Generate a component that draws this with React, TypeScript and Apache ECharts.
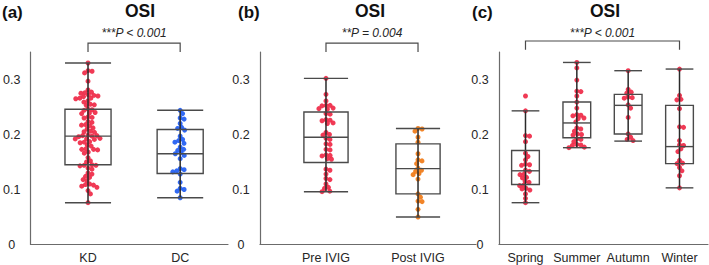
import React, { useEffect, useRef } from "react";
import * as echarts from "echarts";

// ---------- data ----------
const panelTags = ["(a)", "(b)", "(c)"];
const panelTitle = "OSI";
const pLabels = ["***P < 0.001", "**P = 0.004", "***P < 0.001"];

const catsA = ["KD", "DC"];
const catsB = ["Pre IVIG", "Post IVIG"];
const catsC = ["Spring", "Summer", "Autumn", "Winter"];

const yTicks = [0, 0.1, 0.2, 0.3];

const kd = [
  0.330, 0.316, 0.315, 0.312, 0.297, 0.281, 0.277, 0.276, 0.275, 0.272,
  0.271, 0.270, 0.269, 0.266, 0.266, 0.265, 0.261, 0.259, 0.255, 0.254,
  0.253, 0.246, 0.245, 0.244, 0.240, 0.239, 0.238, 0.232, 0.231, 0.230,
  0.224, 0.222, 0.218, 0.217, 0.216, 0.212, 0.210, 0.206, 0.205, 0.204,
  0.199, 0.198, 0.198, 0.197, 0.196, 0.193, 0.192, 0.192, 0.191, 0.187,
  0.186, 0.185, 0.181, 0.179, 0.174, 0.173, 0.173, 0.172, 0.168, 0.166,
  0.158, 0.152, 0.150, 0.145, 0.144, 0.144, 0.143, 0.139, 0.137, 0.130,
  0.128, 0.124, 0.122, 0.118, 0.116, 0.110, 0.109, 0.108, 0.106, 0.104,
  0.098, 0.092, 0.076,
];
const dc = [
  0.244, 0.238, 0.230, 0.228, 0.220, 0.213, 0.211, 0.208, 0.197, 0.191,
  0.189, 0.186, 0.184, 0.177, 0.173, 0.171, 0.167, 0.165, 0.162, 0.156,
  0.138, 0.136, 0.134, 0.132, 0.128, 0.113, 0.102, 0.100, 0.097, 0.085,
];
const preIvig = [
  0.302, 0.273, 0.261, 0.253, 0.253, 0.252, 0.248, 0.247, 0.246, 0.238,
  0.237, 0.227, 0.226, 0.225, 0.221, 0.220, 0.204, 0.200, 0.199, 0.193,
  0.191, 0.183, 0.182, 0.173, 0.172, 0.163, 0.162, 0.161, 0.156, 0.155,
  0.137, 0.135, 0.128, 0.120, 0.118, 0.110, 0.104, 0.102, 0.097, 0.096,
];
const postIvig = [
  0.211, 0.210, 0.206, 0.195, 0.186, 0.165, 0.154, 0.152, 0.147, 0.139,
  0.135, 0.133, 0.129, 0.127, 0.119, 0.092, 0.086, 0.079, 0.078, 0.064,
  0.050,
];
const spring = [
  0.270, 0.243, 0.198, 0.197, 0.187, 0.166, 0.160, 0.154, 0.146, 0.145,
  0.144, 0.135, 0.133, 0.128, 0.127, 0.122, 0.121, 0.115, 0.113, 0.108,
  0.107, 0.102, 0.101, 0.099, 0.092, 0.084, 0.076,
];
const summer = [
  0.331, 0.321, 0.299, 0.279, 0.278, 0.270, 0.259, 0.248, 0.236, 0.235,
  0.234, 0.230, 0.229, 0.223, 0.212, 0.210, 0.206, 0.201, 0.200, 0.199,
  0.192, 0.191, 0.187, 0.182, 0.181, 0.180, 0.177, 0.176,
];
const autumn = [
  0.316, 0.282, 0.277, 0.275, 0.268, 0.267, 0.266, 0.254, 0.248, 0.231,
  0.201, 0.195, 0.191, 0.189,
];
const winter = [
  0.319, 0.271, 0.264, 0.263, 0.247, 0.214, 0.213, 0.189, 0.181, 0.180,
  0.174, 0.169, 0.153, 0.148, 0.147, 0.140, 0.134, 0.125, 0.103,
];

// box stats: [min, Q1, median, Q3, max]
const boxA = [
  [0.076, 0.145, 0.197, 0.246, 0.330],
  [0.085, 0.129, 0.165, 0.209, 0.244],
];
const boxB = [
  [0.096, 0.149, 0.195, 0.241, 0.302],
  [0.050, 0.092, 0.138, 0.183, 0.211],
];
const boxC = [
  [0.076, 0.109, 0.134, 0.171, 0.243],
  [0.176, 0.194, 0.221, 0.259, 0.331],
  [0.188, 0.201, 0.253, 0.273, 0.316],
  [0.103, 0.147, 0.178, 0.253, 0.319],
];

// significance brackets: from-category, to-category, top value, foot value
const bracketFrom = [0, 0, 0];
const bracketTo = [1, 1, 3];
const bracketTop = [0.366, 0.366, 0.37];
const bracketFoot = [0.35, 0.35, 0.354];
const pLabelY = 0.3845;

const RED = "#ef2947";
const BLUE = "#1f5cf2";
const ORANGE = "#f07a16";
const FONT = "Liberation Sans, Arial, sans-serif";

function swarm(ys: number[], d: number): number[] {
  const order = ys.map((_, i) => i).sort((a, b) => ys[a] - ys[b]);
  const xs = new Array(ys.length).fill(0);
  const placed: number[] = [];
  for (const i of order) {
    const cands = [0];
    for (const j of placed) {
      const dy = ys[i] - ys[j];
      if (Math.abs(dy) < d) {
        const dx = Math.sqrt(d * d - dy * dy);
        cands.push(xs[j] + dx, xs[j] - dx);
      }
    }
    cands.sort((a, b) => Math.abs(a) - Math.abs(b) || b - a);
    let best = 0;
    for (const c of cands) {
      let ok = true;
      for (const j of placed) {
        const dy = ys[i] - ys[j];
        const dx = c - xs[j];
        if (dx * dx + dy * dy < d * d - 1e-6) {
          ok = false;
          break;
        }
      }
      if (ok) {
        best = c;
        break;
      }
    }
    xs[i] = best;
    placed.push(i);
  }
  return xs;
}

export default function App() {
  const ref = useRef<HTMLDivElement>(null);
  useEffect(() => {
    if (!ref.current) return;
    const chart = echarts.init(ref.current, undefined, { renderer: "svg" });
    const cache: Record<string, number[]> = {};

    const panels = [
      { cats: catsA, groups: [kd, dc], colors: [RED, BLUE], boxes: boxA, grid: { left: 30, width: 198 }, min: -0.622, max: 1.519, boxW: 0.5 },
      { cats: catsB, groups: [preIvig, postIvig], colors: [RED, ORANGE], boxes: boxB, grid: { left: 260, width: 216 }, min: -0.717, max: 1.63, boxW: 0.48 },
      { cats: catsC, groups: [spring, summer, autumn, winter], colors: [RED, RED, RED, RED], boxes: boxC, grid: { left: 499, width: 209 }, min: -0.516, max: 3.555, boxW: 0.54 },
    ];

    const grids: any[] = [];
    const xAxes: any[] = [];
    const yAxes: any[] = [];
    const series: any[] = [];

    panels.forEach((p, pi) => {
      grids.push({ left: p.grid.left, width: p.grid.width, top: 52, height: 192.5 });
      xAxes.push({
        type: "value",
        gridIndex: pi,
        min: p.min,
        max: p.max,
        splitLine: { show: false },
        axisTick: { show: false },
        axisLine: { show: true, onZero: false, lineStyle: { color: "#6b6b6b", width: 1.2 } },
        axisLabel: {
          margin: 7,
          fontSize: 12.5,
          color: "#262626",
          fontFamily: FONT,
          showMinLabel: false,
          showMaxLabel: false,
          formatter: (v: number) => {
            const r = Math.round(v);
            if (Math.abs(v - r) > 1e-6 || r < 0 || r >= p.cats.length) return "";
            return p.cats[r];
          },
        },
      });
      yAxes.push({
        type: "value",
        gridIndex: pi,
        min: 0,
        max: 0.35,
        interval: 0.1,
        splitLine: { show: false },
        axisTick: { show: false },
        axisLine: { show: true, onZero: false, lineStyle: { color: "#6b6b6b", width: 1.2 } },
        axisLabel: {
          align: "center",
          margin: 19,
          fontSize: 12.5,
          color: "#262626",
          fontFamily: FONT,
          formatter: (v: number) => {
            const t = yTicks.find((k) => Math.abs(k - v) < 1e-6);
            if (t === undefined) return "";
            return t === 0 ? "0" : t.toFixed(1);
          },
        },
      });

      // points (beeswarm)
      const ptData: number[][] = [];
      p.groups.forEach((arr, g) => arr.forEach((v, i) => ptData.push([g, v, i])));
      series.push({
        type: "custom",
        xAxisIndex: pi,
        yAxisIndex: pi,
        z: 2,
        encode: { x: 0, y: 1 },
        data: ptData,
        renderItem: (params: any, api: any) => {
          const g = api.value(0);
          const v = api.value(1);
          const idx = api.value(2);
          const key = pi + "-" + g;
          let offs = cache[key];
          if (!offs) {
            const ys = p.groups[g].map((val) => api.coord([g, val])[1]);
            offs = swarm(ys, 4.1);
            cache[key] = offs;
          }
          const pt = api.coord([g, v]);
          return {
            type: "circle",
            shape: { cx: pt[0] + offs[idx], cy: pt[1], r: 2.5 },
            style: { fill: p.colors[g], opacity: 0.92 },
          };
        },
      });

      // boxes
      series.push({
        type: "custom",
        xAxisIndex: pi,
        yAxisIndex: pi,
        z: 3,
        encode: { x: 0, y: [1, 2, 3, 4, 5] },
        data: p.boxes.map((s, g) => [g, ...s]),
        renderItem: (params: any, api: any) => {
          const x = api.value(0);
          const c = (v: number) => api.coord([x, v]);
          const [cx, yMin] = c(api.value(1));
          const yQ1 = c(api.value(2))[1];
          const yMed = c(api.value(3))[1];
          const yQ3 = c(api.value(4))[1];
          const yMax = c(api.value(5))[1];
          const w = api.size([p.boxW, 0])[0];
          const st = { stroke: "#4a4a4a", lineWidth: 1.4, fill: "none" };
          return {
            type: "group",
            children: [
              { type: "line", shape: { x1: cx, y1: yMax, x2: cx, y2: yMin }, style: { stroke: "#2a2a2a", lineWidth: 1.5 } },
              { type: "rect", shape: { x: cx - w / 2, y: yQ3, width: w, height: yQ1 - yQ3 }, style: st },
              { type: "line", shape: { x1: cx - w / 2, y1: yMed, x2: cx + w / 2, y2: yMed }, style: st },
              { type: "line", shape: { x1: cx - w / 2, y1: yMax, x2: cx + w / 2, y2: yMax }, style: st },
              { type: "line", shape: { x1: cx - w / 2, y1: yMin, x2: cx + w / 2, y2: yMin }, style: st },
            ],
          };
        },
      });

      // significance bracket + p label
      series.push({
        type: "custom",
        xAxisIndex: pi,
        yAxisIndex: pi,
        z: 4,
        clip: false,
        encode: { x: [0, 1], y: [2, 3] },
        data: [[bracketFrom[pi], bracketTo[pi], bracketTop[pi], bracketFoot[pi], pLabelY]],
        renderItem: (params: any, api: any) => {
          const x0 = api.value(0);
          const x1 = api.value(1);
          const top = api.value(2);
          const foot = api.value(3);
          const a = api.coord([x0, foot]);
          const b = api.coord([x0, top]);
          const cpt = api.coord([x1, top]);
          const d = api.coord([x1, foot]);
          const t = api.coord([(x0 + x1) / 2, api.value(4)]);
          return {
            type: "group",
            children: [
              {
                type: "polyline",
                shape: { points: [a, b, cpt, d] },
                style: { stroke: "#4a4a4a", lineWidth: 1.2, fill: "none" },
              },
              {
                type: "text",
                x: t[0],
                y: t[1],
                style: {
                  text: pLabels[pi],
                  fontSize: 12,
                  fontStyle: "italic",
                  fontFamily: FONT,
                  fill: "#262626",
                  align: "center",
                  verticalAlign: "middle",
                },
              },
            ],
          };
        },
      });
    });

    const titleX = [140, 370, 605];
    const tagX = [2, 238, 472];
    const graphic: any[] = [];
    panels.forEach((_, pi) => {
      graphic.push({
        type: "text",
        x: titleX[pi],
        y: 11,
        style: { text: panelTitle, fontSize: 17.5, fontWeight: "bold", fontFamily: FONT, fill: "#111", align: "center", verticalAlign: "middle" },
      });
      graphic.push({
        type: "text",
        x: tagX[pi],
        y: 12,
        style: { text: panelTags[pi], fontSize: 17, fontWeight: "bold", fontFamily: FONT, fill: "#111", align: "left", verticalAlign: "middle" },
      });
    });

    chart.setOption({
      animation: false,
      grid: grids,
      xAxis: xAxes,
      yAxis: yAxes,
      series,
      graphic,
    });
    return () => chart.dispose();
  }, []);

  return (
    <div
      ref={ref}
      style={{ position: "absolute", left: 0, top: 0, width: 709, height: 265, background: "#fff" }}
    />
  );
}
